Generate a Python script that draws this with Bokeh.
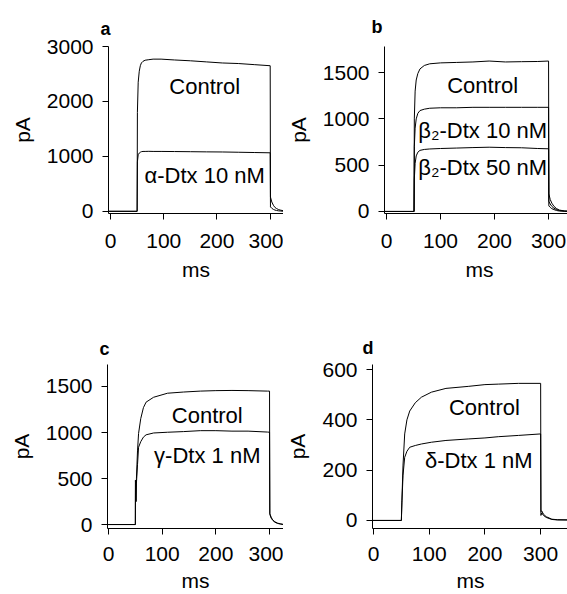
from bokeh.plotting import figure
from bokeh.layouts import column, row
from bokeh.models import Range1d, FixedTicker
from bokeh.embed import file_html
from bokeh.resources import INLINE
from bokeh.core.properties import value

FONT = "Liberation Sans"

# ---------------- data (ms, pA) ----------------
# panel a
a_t = [-4, 50, 50.5, 52, 54, 56, 58, 61, 65, 72, 80, 95, 120, 150, 180, 210, 240, 270, 300,
       300.5, 303, 306, 309, 312, 316, 320, 325]
a_control = [0, 0, 1800, 2350, 2550, 2650, 2700, 2730, 2750, 2760, 2770, 2770, 2755, 2740, 2720, 2700, 2690, 2670, 2650,
             260, 170, 110, 70, 50, 30, 20, 10]
a_alpha = [0, 0, 900, 1030, 1060, 1075, 1085, 1090, 1090, 1092, 1090, 1090, 1088, 1085, 1082, 1080, 1075, 1070, 1065,
           80, 55, 35, 22, 15, 8, 5, 0]

# panel b
b_t = [-4, 51, 51.5, 53, 55, 58, 62, 70, 80, 100, 130, 160, 190, 220, 250, 280, 300,
       300.5, 303, 306, 310, 315, 320, 330, 348]
b_control = [0, 0, 1000, 1300, 1420, 1490, 1540, 1577, 1595, 1605, 1610, 1615, 1625, 1615, 1618, 1620, 1625,
             190, 130, 90, 55, 30, 15, 5, 0]
b_beta10 = [0, 0, 700, 900, 1000, 1060, 1090, 1105, 1115, 1120, 1120, 1125, 1125, 1125, 1125, 1125, 1125,
            110, 80, 55, 35, 20, 10, 3, 0]
b_beta50 = [0, 0, 350, 520, 600, 640, 660, 670, 675, 680, 685, 690, 694, 690, 688, 680, 677,
            60, 45, 30, 20, 10, 5, 2, 0]

# panel c
c_t = [-2, 50, 50.2, 51, 52, 54, 56, 60, 65, 70, 84, 110, 140, 171, 200, 230, 260, 296, 300,
       300.5, 303, 306, 310, 315, 320, 326]
c_control = [0, 0, 480, 250, 500, 800, 990, 1150, 1270, 1330, 1383, 1427, 1440, 1450, 1455, 1457, 1455, 1450, 1450,
             120, 80, 50, 30, 15, 8, 0]
c_gamma = [0, 0, 480, 250, 450, 650, 840, 900, 950, 975, 995, 1003, 1010, 1020, 1020, 1015, 1015, 1005, 1003,
           110, 70, 45, 25, 12, 6, 0]

# panel d
d_t = [-2, 50, 51, 53, 56, 60, 65, 75, 86, 104, 130, 170, 200, 224, 260, 300,
       300.5, 302, 305, 310, 315, 320, 330, 350]
d_control = [0, 0, 80, 220, 344, 400, 435, 468, 490, 510, 525, 533, 540, 542, 545, 545,
             35, 38, 25, 15, 10, 5, 3, 2]
d_delta = [0, 0, 70, 180, 251, 275, 291, 298, 304, 311, 318, 324, 328, 333, 338, 344,
           20, 30, 20, 12, 8, 4, 2, 2]

x_ticks = [0, 100, 200, 300]
a_yticks = [0, 1000, 2000, 3000]
b_yticks = [0, 500, 1000, 1500]
c_yticks = [0, 500, 1000, 1500]
d_yticks = [0, 200, 400, 600]

a_labels = ["Control", "α-Dtx 10 nM"]
b_labels = ["Control", "β₂-Dtx 10 nM", "β₂-Dtx 50 nM"]
c_labels = ["Control", "γ-Dtx 1 nM"]
d_labels = ["Control", "δ-Dtx 1 nM"]


def panel(letter, xr, yr, yticks, fw, fh, bl, bt, title_off, title_stand, xstand, xlabstand):
    p = figure(x_range=Range1d(*xr), y_range=Range1d(*yr),
               frame_width=fw, frame_height=fh,
               min_border_left=bl, min_border_right=0, min_border_top=bt, min_border_bottom=20,
               output_backend="svg", toolbar_location=None, title=letter)
    p.title.text_font = FONT
    p.title.text_font_style = "bold"
    p.title.text_font_size = "18px"
    p.title.text_color = "black"
    p.title.align = "left"
    p.title.offset = title_off
    p.title.standoff = title_stand
    p.xgrid.visible = False
    p.ygrid.visible = False
    p.outline_line_color = None
    p.background_fill_color = "white"
    p.border_fill_color = "white"
    for ax in (p.xaxis[0], p.yaxis[0]):
        ax.axis_line_color = "black"
        ax.axis_line_width = 1
        ax.major_tick_line_color = "black"
        ax.major_tick_out = 6
        ax.major_tick_in = 0
        ax.minor_tick_line_color = None
        ax.major_label_text_font = FONT
        ax.major_label_text_font_size = "21px"
        ax.major_label_text_color = "black"
        ax.axis_label_text_font = FONT
        ax.axis_label_text_font_size = "21px"
        ax.axis_label_text_font_style = "normal"
        ax.axis_label_text_color = "black"
    p.xaxis.major_label_text_line_height = 0.9
    p.xaxis.axis_label_text_line_height = 0.9
    p.yaxis.major_label_standoff = 9
    p.xaxis.major_label_standoff = xstand
    p.xaxis.ticker = FixedTicker(ticks=x_ticks)
    p.yaxis.ticker = FixedTicker(ticks=yticks)
    p.xaxis.axis_label = "ms"
    p.yaxis.axis_label = "pA"
    p.xaxis.axis_label_standoff = xlabstand
    p.yaxis.axis_label_standoff = 10
    return p


def traces(p, t, series):
    for s in series:
        p.line(t, s, line_color="black", line_width=1)


def labels(p, xs, ys, texts):
    p.text(x=xs, y=ys, text=texts, text_align="center", text_baseline="middle",
           text_font=value(FONT), text_font_size="22px", text_color="black")


# row 1 frames: top 46, bottom 213
pa = panel("a", (-3.8, 325), (-40, 3000), a_yticks, 175, 167, 108, 46, -8, 15, 14, 7)
traces(pa, a_t, [a_control, a_alpha])
labels(pa, [177, 177], [2275, 660], a_labels)

pb = panel("b", (-3.7, 348), (-22, 1782), b_yticks, 190, 167, 94, 46, -13, 19, 14, 7)
traces(pb, b_t, [b_control, b_beta10, b_beta50])
labels(pb, [178, 178, 178], [1360, 875, 475], b_labels)

# row 2 frames: top 364, bottom 528
pc = panel("c", (-1.9, 326), (-43, 1739), c_yticks, 176, 164, 107, 81, -8, 12, 12, 5)
traces(pc, c_t, [c_control, c_gamma])
labels(pc, [184, 184], [1185, 750], c_labels)

pd = panel("d", (-1.8, 350), (-32, 620), d_yticks, 196, 164, 88, 81, -10, 14, 12, 5)
traces(pd, d_t, [d_control, d_delta])
labels(pd, [199, 189], [448, 238], d_labels)

layout = column(row(pa, pb, spacing=0), row(pc, pd, spacing=0), spacing=0)

open("out.html", "w").write(file_html(layout, INLINE))
